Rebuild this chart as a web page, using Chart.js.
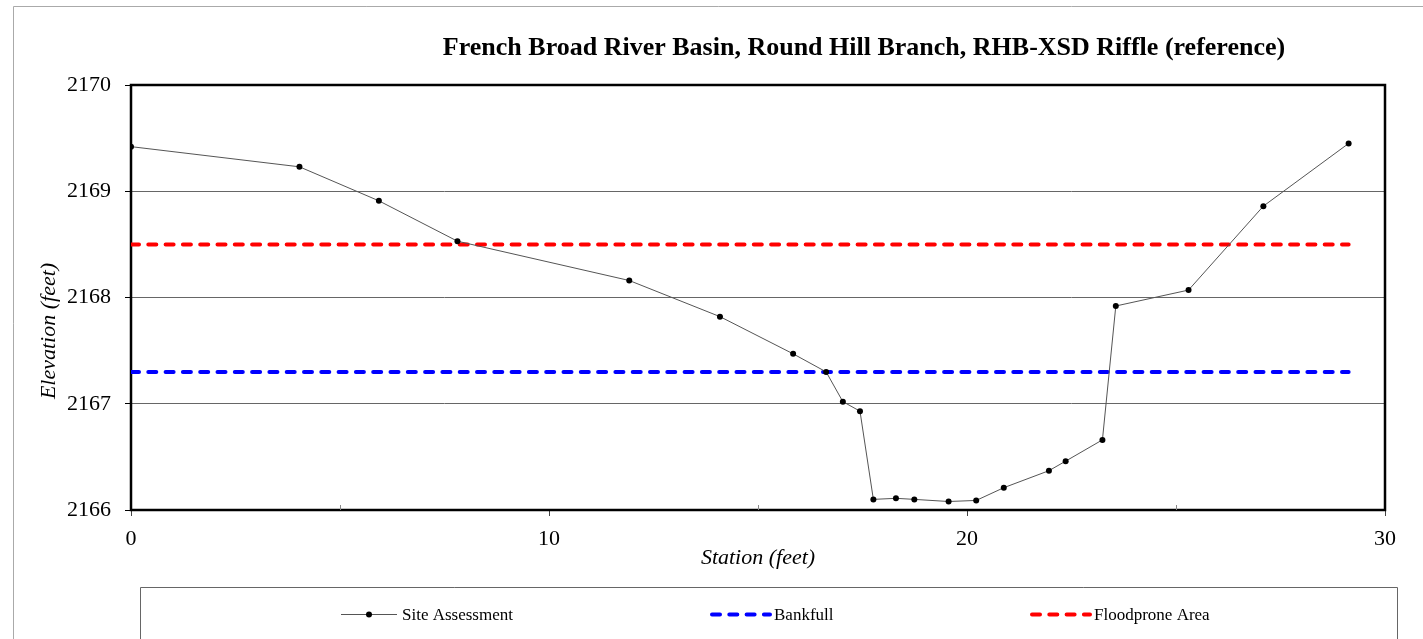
<!DOCTYPE html>
<html>
<head>
<meta charset="utf-8">
<title>RHB-XSD Riffle cross-section</title>
<script src="https://cdn.jsdelivr.net/npm/chart.js@4.4.1/dist/chart.umd.min.js"></script>
<style>
  html, body { margin: 0; padding: 0; background: #fff; }
  #wrap { width: 1423px; height: 639px; }
</style>
</head>
<body>
<div id="wrap"><canvas id="xs" width="1423" height="639"></canvas></div>
<script>
// surveyed cross-section, station (ft) vs ground elevation (ft)
const stations = [0, 4.03, 5.93, 7.81, 11.92, 14.09, 15.84, 16.63, 17.03, 17.44, 17.76, 18.30,
  18.74, 19.56, 20.22, 20.88, 21.96, 22.36, 23.24, 23.56, 25.30, 27.09, 29.13];
const elevations = [2169.42, 2169.23, 2168.91, 2168.53, 2168.16, 2167.82, 2167.47, 2167.30, 2167.02,
  2166.93, 2166.10, 2166.11, 2166.10, 2166.08, 2166.09, 2166.21, 2166.37, 2166.46, 2166.66, 2167.92,
  2168.07, 2168.86, 2169.45];

const bankfullElevation = 2167.3;
const floodproneElevation = 2168.5;

const stationTicks = [0, 10, 20, 30];
const minorStationTicks = [5, 15, 25];
const elevationTicks = [2166, 2167, 2168, 2169, 2170];

const seriesNames = ['Site Assessment', 'Bankfull', 'Floodprone Area'];
const chartTitle = 'French Broad River Basin, Round Hill Branch, RHB-XSD Riffle (reference)';

const serif = "'Liberation Serif', 'Times New Roman', serif";

const siteData = stations.map((s, i) => ({ x: s, y: elevations[i] }));
const lastStation = stations[stations.length - 1];
const levelLine = (elev) => [{ x: stations[0], y: elev }, { x: lastStation, y: elev }];

const dash = [8, 9.3];

// frame, legend box, titles and the small inner ticks
const decorations = {
  id: 'decorations',
  beforeDraw(chart) {
    const { ctx } = chart;
    ctx.save();
    ctx.fillStyle = '#fff';
    ctx.fillRect(0, 0, chart.width, chart.height);
    ctx.strokeStyle = '#aaa';
    ctx.lineWidth = 1;
    ctx.beginPath();
    ctx.moveTo(13.5, chart.height + 2);
    ctx.lineTo(13.5, 6.5);
    ctx.lineTo(chart.width + 2, 6.5);
    ctx.stroke();

    ctx.strokeStyle = '#666';
    ctx.beginPath();
    ctx.moveTo(140.5, chart.height + 2);
    ctx.lineTo(140.5, 587.5);
    ctx.lineTo(1397.5, 587.5);
    ctx.lineTo(1397.5, chart.height + 2);
    ctx.stroke();
    ctx.restore();
  },
  beforeDatasetsDraw(chart) {
    const { ctx, chartArea: a, scales } = chart;
    ctx.save();
    ctx.strokeStyle = '#000';
    ctx.lineWidth = 2.5;
    ctx.strokeRect(a.left, a.top, a.right - a.left, a.bottom - a.top);
    ctx.strokeStyle = '#888';
    ctx.lineWidth = 1;
    minorStationTicks.forEach(v => {
      const px = Math.round(scales.x.getPixelForValue(v)) + 0.5;
      ctx.beginPath();
      ctx.moveTo(px, a.bottom);
      ctx.lineTo(px, a.bottom - 5);
      ctx.stroke();
    });
    ctx.restore();
  },
  afterDraw(chart) {
    const { ctx } = chart;
    const ds = chart.data.datasets;
    ctx.save();
    ctx.fillStyle = '#000';

    ctx.font = 'bold 26px ' + serif;
    ctx.textAlign = 'center';
    ctx.textBaseline = 'alphabetic';
    ctx.fillText(chartTitle, 864, 55);

    ctx.font = 'italic 22px ' + serif;
    ctx.translate(49, 331);
    ctx.rotate(-Math.PI / 2);
    ctx.textBaseline = 'middle';
    ctx.fillText('Elevation (feet)', 0, 0);
    ctx.setTransform(1, 0, 0, 1, 0, 0);

    // legend entries
    const ly = 614.5;
    const items = [
      { x0: 341, x1: 397, tx: 402 },
      { x0: 712, x1: 770, tx: 774 },
      { x0: 1032, x1: 1090, tx: 1094 }
    ];
    items.forEach((it, i) => {
      const d = ds[i];
      ctx.strokeStyle = d.borderColor;
      ctx.lineWidth = d.borderWidth;
      ctx.lineCap = d.borderCapStyle || 'butt';
      ctx.setLineDash(d.borderDash || []);
      ctx.beginPath();
      ctx.moveTo(it.x0, ly);
      ctx.lineTo(it.x1, ly);
      ctx.stroke();
      ctx.setLineDash([]);
      if (d.pointRadius > 0) {
        ctx.fillStyle = d.pointBackgroundColor;
        ctx.beginPath();
        ctx.arc((it.x0 + it.x1) / 2, ly, d.pointRadius, 0, Math.PI * 2);
        ctx.fill();
      }
      ctx.fillStyle = '#000';
      ctx.font = '17px ' + serif;
      ctx.textAlign = 'left';
      ctx.textBaseline = 'alphabetic';
      ctx.fillText(d.label, it.tx, 620);
    });
    ctx.restore();
  }
};

new Chart(document.getElementById('xs'), {
  type: 'scatter',
  data: {
    datasets: [
      {
        label: seriesNames[0],
        data: siteData,
        showLine: true,
        borderColor: '#555',
        borderWidth: 1,
        pointRadius: 3,
        pointBackgroundColor: '#000',
        pointBorderWidth: 0
      },
      {
        label: seriesNames[1],
        data: levelLine(bankfullElevation),
        showLine: true,
        borderColor: '#0000ff',
        borderWidth: 4,
        borderDash: dash,
        borderCapStyle: 'round',
        pointRadius: 0
      },
      {
        label: seriesNames[2],
        data: levelLine(floodproneElevation),
        showLine: true,
        borderColor: '#ff0000',
        borderWidth: 4,
        borderDash: dash,
        borderCapStyle: 'round',
        pointRadius: 0
      }
    ]
  },
  options: {
    responsive: false,
    animation: false,
    devicePixelRatio: 1,
    layout: { padding: { left: 0, right: 38, top: 85, bottom: 68 } },
    plugins: {
      legend: { display: false },
      title: { display: false },
      tooltip: { enabled: false }
    },
    scales: {
      x: {
        type: 'linear',
        min: 0,
        max: 30,
        afterBuildTicks: (scale) => { scale.ticks = stationTicks.map(v => ({ value: v })); },
        afterFit: (scale) => { scale.height = 61; },
        grid: { display: true, drawOnChartArea: false, drawTicks: true, tickLength: 6, tickColor: '#444' },
        border: { display: false },
        ticks: { color: '#000', font: { family: serif, size: 22 }, padding: 10, maxRotation: 0,
          callback: (v) => String(v) },
        title: {
          display: true,
          text: 'Station (feet)',
          color: '#000',
          font: { family: serif, size: 22, style: 'italic' },
          padding: { top: 0, bottom: 0 }
        }
      },
      y: {
        type: 'linear',
        min: 2166,
        max: 2170,
        afterBuildTicks: (scale) => { scale.ticks = elevationTicks.map(v => ({ value: v })); },
        afterFit: (scale) => { scale.width = 131; },
        grid: { color: '#666', lineWidth: 1, drawTicks: true, tickLength: 6, tickColor: '#000' },
        border: { display: false },
        ticks: { color: '#000', font: { family: serif, size: 22 }, padding: 14,
          callback: (v) => String(v) }
      }
    }
  },
  plugins: [decorations]
});
</script>
</body>
</html>
